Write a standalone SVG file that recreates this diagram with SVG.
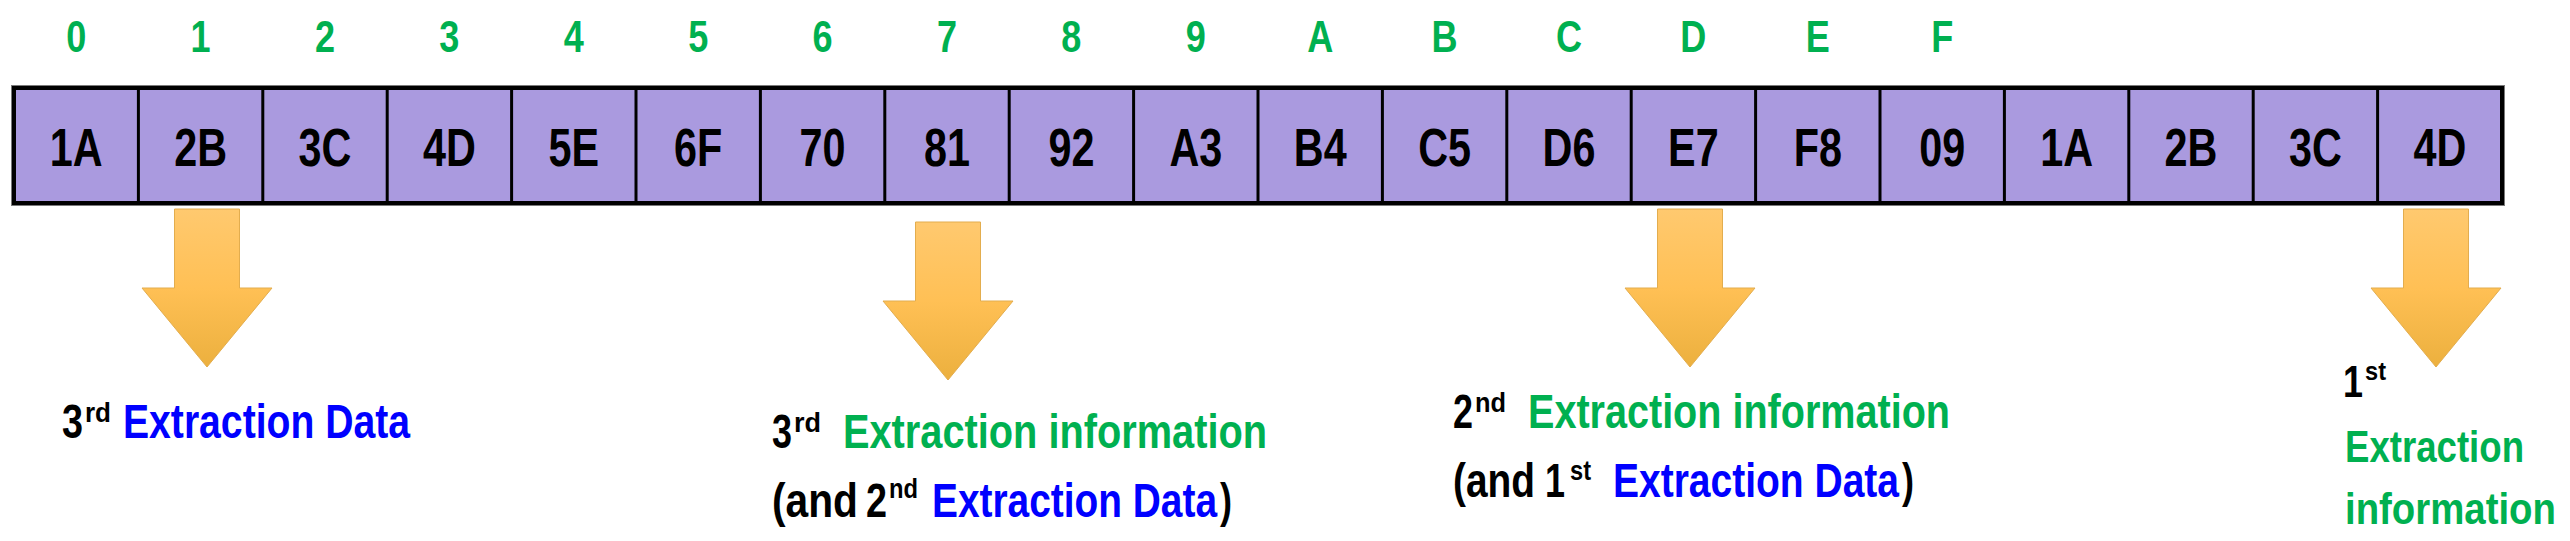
<svg xmlns="http://www.w3.org/2000/svg" xmlns:xlink="http://www.w3.org/1999/xlink" width="2570" height="541" viewBox="0 0 2570 541">
<style>
  text { font-family: "Liberation Sans", Arial, sans-serif; font-weight: bold; }
  .idx { fill: #00B050; font-size: 44px; text-anchor: middle; }
  .cell { fill: #000; font-size: 53px; text-anchor: middle; }
  .blk { fill: #000; font-size: 49px; }
  .sup { fill: #000; font-size: 27px; }
  .grn { fill: #00B050; font-size: 49px; }
  .blu { fill: #0000FF; font-size: 49px; }
  .div { stroke: #000; stroke-width: 3; }
  .arr { fill: url(#og); stroke: #E3AD4E; stroke-width: 1; }
</style>
<defs>
  <linearGradient id="og" x1="0" y1="0" x2="0" y2="1">
    <stop offset="0" stop-color="#FFC96F"/>
    <stop offset="0.5" stop-color="#FFC055"/>
    <stop offset="1" stop-color="#ECB03E"/>
  </linearGradient>
  <path id="arrow" d="M-32.5 0 H32.5 V79 H65 L0 158 L-65 79 H-32.5 Z"/>
</defs>
<rect width="2570" height="541" fill="#FFFFFF"/>

<g id="indices" transform="scale(0.82 1)">
  <text class="idx" x="92.9" y="52">0</text>
  <text class="idx" x="244.6" y="52">1</text>
  <text class="idx" x="396.3" y="52">2</text>
  <text class="idx" x="548.0" y="52">3</text>
  <text class="idx" x="699.8" y="52">4</text>
  <text class="idx" x="851.5" y="52">5</text>
  <text class="idx" x="1003.2" y="52">6</text>
  <text class="idx" x="1154.9" y="52">7</text>
  <text class="idx" x="1306.6" y="52">8</text>
  <text class="idx" x="1458.3" y="52">9</text>
  <text class="idx" x="1610.0" y="52">A</text>
  <text class="idx" x="1761.7" y="52">B</text>
  <text class="idx" x="1913.4" y="52">C</text>
  <text class="idx" x="2065.1" y="52">D</text>
  <text class="idx" x="2216.8" y="52">E</text>
  <text class="idx" x="2368.5" y="52">F</text>
</g>

<g id="bytes">
  <rect x="14" y="88" width="2488" height="115" fill="none" stroke="#7A7A7A" stroke-width="6"/>
  <rect x="14" y="88" width="2488" height="115" fill="#AA9ADF" stroke="#000" stroke-width="4"/>
  <line class="div" x1="138.4" y1="88" x2="138.4" y2="203"/>
  <line class="div" x1="262.8" y1="88" x2="262.8" y2="203"/>
  <line class="div" x1="387.2" y1="88" x2="387.2" y2="203"/>
  <line class="div" x1="511.6" y1="88" x2="511.6" y2="203"/>
  <line class="div" x1="636" y1="88" x2="636" y2="203"/>
  <line class="div" x1="760.4" y1="88" x2="760.4" y2="203"/>
  <line class="div" x1="884.8" y1="88" x2="884.8" y2="203"/>
  <line class="div" x1="1009.2" y1="88" x2="1009.2" y2="203"/>
  <line class="div" x1="1133.6" y1="88" x2="1133.6" y2="203"/>
  <line class="div" x1="1258" y1="88" x2="1258" y2="203"/>
  <line class="div" x1="1382.4" y1="88" x2="1382.4" y2="203"/>
  <line class="div" x1="1506.8" y1="88" x2="1506.8" y2="203"/>
  <line class="div" x1="1631.2" y1="88" x2="1631.2" y2="203"/>
  <line class="div" x1="1755.6" y1="88" x2="1755.6" y2="203"/>
  <line class="div" x1="1880" y1="88" x2="1880" y2="203"/>
  <line class="div" x1="2004.4" y1="88" x2="2004.4" y2="203"/>
  <line class="div" x1="2128.8" y1="88" x2="2128.8" y2="203"/>
  <line class="div" x1="2253.2" y1="88" x2="2253.2" y2="203"/>
  <line class="div" x1="2377.6" y1="88" x2="2377.6" y2="203"/>
  <g transform="scale(0.78 1)">
    <text class="cell" x="97.7" y="166">1A</text>
    <text class="cell" x="257.2" y="166">2B</text>
    <text class="cell" x="416.7" y="166">3C</text>
    <text class="cell" x="576.2" y="166">4D</text>
    <text class="cell" x="735.6" y="166">5E</text>
    <text class="cell" x="895.1" y="166">6F</text>
    <text class="cell" x="1054.6" y="166">70</text>
    <text class="cell" x="1214.1" y="166">81</text>
    <text class="cell" x="1373.6" y="166">92</text>
    <text class="cell" x="1533.1" y="166">A3</text>
    <text class="cell" x="1692.6" y="166">B4</text>
    <text class="cell" x="1852.1" y="166">C5</text>
    <text class="cell" x="2011.5" y="166">D6</text>
    <text class="cell" x="2171.0" y="166">E7</text>
    <text class="cell" x="2330.5" y="166">F8</text>
    <text class="cell" x="2490.0" y="166">09</text>
    <text class="cell" x="2649.5" y="166">1A</text>
    <text class="cell" x="2809.0" y="166">2B</text>
    <text class="cell" x="2968.5" y="166">3C</text>
    <text class="cell" x="3128.0" y="166">4D</text>
  </g>
</g>

<g id="connectors">
  <use href="#arrow" xlink:href="#arrow" class="arr" x="207" y="209"/>
  <use href="#arrow" xlink:href="#arrow" class="arr" x="948" y="222"/>
  <use href="#arrow" xlink:href="#arrow" class="arr" x="1690" y="209"/>
  <use href="#arrow" xlink:href="#arrow" class="arr" x="2436" y="209"/>
</g>

<g id="label-3rd-data">
  <text class="blk" x="62" y="438" textLength="21" lengthAdjust="spacingAndGlyphs">3</text>
  <text class="sup" x="85" y="422" textLength="26" lengthAdjust="spacingAndGlyphs">rd</text>
  <text class="blu" x="123" y="438" textLength="287" lengthAdjust="spacingAndGlyphs">Extraction Data</text>
</g>

<g id="label-3rd-info">
  <text class="blk" x="772" y="448" textLength="20" lengthAdjust="spacingAndGlyphs">3</text>
  <text class="sup" x="794" y="432" textLength="27" lengthAdjust="spacingAndGlyphs">rd</text>
  <text class="grn" x="843" y="448" textLength="424" lengthAdjust="spacingAndGlyphs">Extraction information</text>
  <text class="blk" x="772" y="517" textLength="86" lengthAdjust="spacingAndGlyphs">(and</text>
  <text class="blk" x="866" y="517" textLength="21" lengthAdjust="spacingAndGlyphs">2</text>
  <text class="sup" x="889" y="498" textLength="29" lengthAdjust="spacingAndGlyphs">nd</text>
  <text class="blu" x="932" y="517" textLength="285" lengthAdjust="spacingAndGlyphs">Extraction Data</text>
  <text class="blk" x="1220" y="517" textLength="12" lengthAdjust="spacingAndGlyphs">)</text>
</g>

<g id="label-2nd-info">
  <text class="blk" x="1453" y="428" textLength="20" lengthAdjust="spacingAndGlyphs">2</text>
  <text class="sup" x="1475" y="412" textLength="31" lengthAdjust="spacingAndGlyphs">nd</text>
  <text class="grn" x="1528" y="428" textLength="422" lengthAdjust="spacingAndGlyphs">Extraction information</text>
  <text class="blk" x="1453" y="497" textLength="82" lengthAdjust="spacingAndGlyphs">(and</text>
  <text class="blk" x="1545" y="497" textLength="20" lengthAdjust="spacingAndGlyphs">1</text>
  <text class="sup" x="1570" y="480" textLength="21" lengthAdjust="spacingAndGlyphs">st</text>
  <text class="blu" x="1613" y="497" textLength="286" lengthAdjust="spacingAndGlyphs">Extraction Data</text>
  <text class="blk" x="1902" y="497" textLength="12" lengthAdjust="spacingAndGlyphs">)</text>
</g>

<g id="label-1st-info">
  <text class="blk" x="2343" y="397" style="font-size:45px" textLength="20" lengthAdjust="spacingAndGlyphs">1</text>
  <text class="sup" x="2365" y="380" style="font-size:25px" textLength="21" lengthAdjust="spacingAndGlyphs">st</text>
  <text class="grn" x="2345" y="462" style="font-size:45px" textLength="179" lengthAdjust="spacingAndGlyphs">Extraction</text>
  <text class="grn" x="2345" y="524" style="font-size:45px" textLength="211" lengthAdjust="spacingAndGlyphs">information</text>
</g>
</svg>
